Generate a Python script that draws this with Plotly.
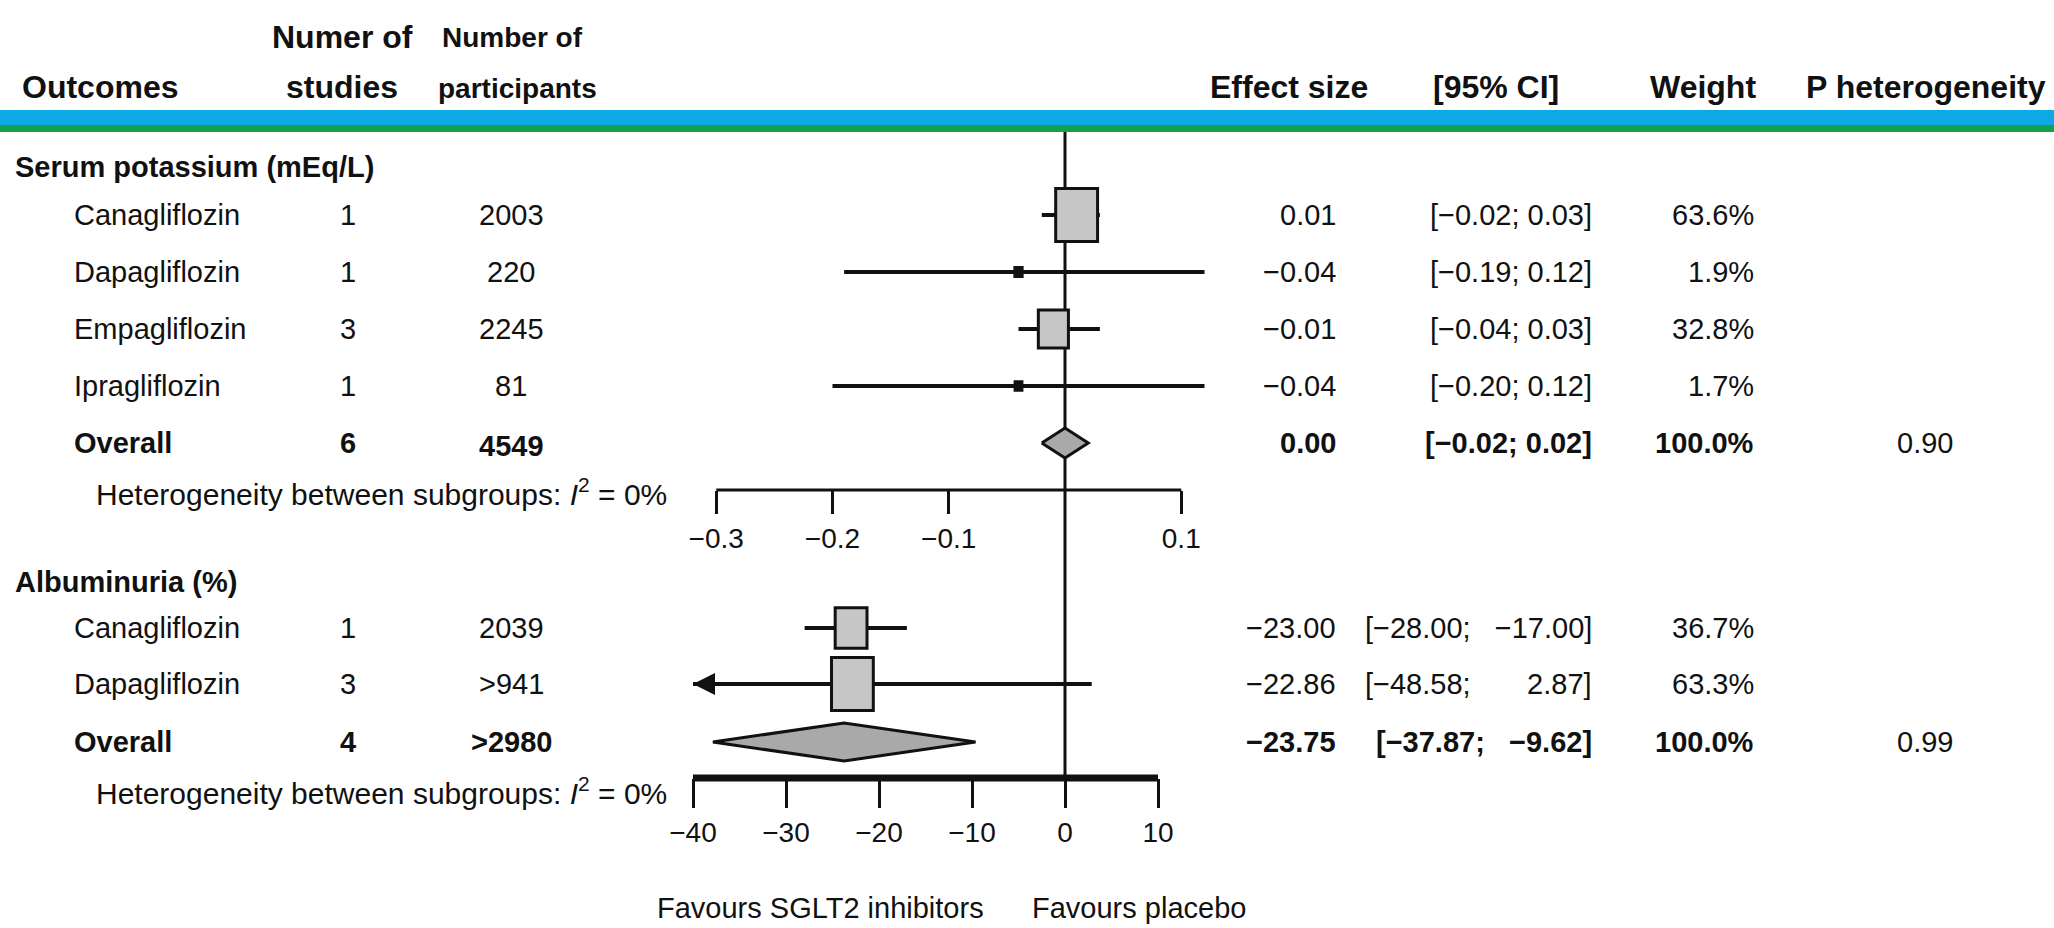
import plotly.graph_objects as go

W, H = 2054, 928

# ------------------------- data -------------------------
top_title = "Serum potassium (mEq/L)"
top_drugs = ["Canagliflozin", "Dapagliflozin", "Empagliflozin", "Ipragliflozin"]
top_studies = [1, 1, 3, 1]
top_participants = ["2003", "220", "2245", "81"]
top_est = [0.01, -0.04, -0.01, -0.04]
top_lo = [-0.02, -0.19, -0.04, -0.20]
top_hi = [0.03, 0.12, 0.03, 0.12]
top_weight = [63.6, 1.9, 32.8, 1.7]
top_overall_studies = 6
top_overall_participants = "4549"
top_overall_est = 0.00
top_overall_lo = -0.02
top_overall_hi = 0.02
top_p_het = "0.90"

bot_title = "Albuminuria (%)"
bot_drugs = ["Canagliflozin", "Dapagliflozin"]
bot_studies = [1, 3]
bot_participants = ["2039", ">941"]
bot_est = [-23.00, -22.86]
bot_lo = [-28.00, -48.58]
bot_hi = [-17.00, 2.87]
bot_weight = [36.7, 63.3]
bot_overall_studies = 4
bot_overall_participants = ">2980"
bot_overall_est = -23.75
bot_overall_lo = -37.87
bot_overall_hi = -9.62
bot_p_het = "0.99"

top_ticks = [-0.3, -0.2, -0.1, 0.1]
bot_ticks = [-40, -30, -20, -10, 0, 10]
top_limits = [-0.3, 0.1]
bot_limits = [-40, 10]

# ------------------------- layout constants (pixels) -------------------------
FONT = "Liberation Sans, Arial, Helvetica, sans-serif"
FS = 29
ZERO_PX = 1065
TOP_SCALE = (1181 - 716) / 0.4      # px per unit, top panel
BOT_SCALE = (1158 - 693) / 50.0     # px per unit, bottom panel

Y_HEAD1, Y_HEAD2 = 37, 87
Y_BLUE = (110, 125)
Y_GREEN = (125, 132)
Y_TOP_TITLE = 167
Y_TOP_ROWS = [215, 272, 329, 386]
Y_TOP_OVERALL = 443
Y_TOP_HET = 492
Y_TOP_AXIS = 490
Y_BOT_TITLE = 582
Y_BOT_ROWS = [628, 684]
Y_BOT_OVERALL = 742
Y_BOT_HET = 791
Y_BOT_AXIS = 778
Y_FAV = 908

X_TITLE = 13
X_DRUG = 72
X_HET = 94
X_STUD = 348
X_PART = 511
X_EFF_R = 1338
X_CI_R = 1594
X_W_R = 1756
X_P_C = 1925

BOX_K = 6.65      # box height px per sqrt(weight)
BOX_ASPECT = 0.79
INK = "#111111"
BOX_FILL = "#c6c6c6"
DIA_FILL = "#a9a9a9"


def fmt(v, nd=2):
    s = f"{abs(v):.{nd}f}"
    return ("\u2212" + s) if v < 0 else s


def ci_text(lo, hi, pad=0):
    h = fmt(hi)
    h = "\u2007" * max(0, pad - len(h)) + h
    return f"[{fmt(lo)}; {h}]"


fig = go.Figure()
annotations = []
shapes = []


def txt(x_px, y, text, anchor="left", size=FS, bold=False):
    if bold:
        text = f"<b>{text}</b>"
    annotations.append(dict(
        x=x_px / W, xref="paper", y=y, yref="y", text=text, showarrow=False,
        xanchor=anchor, yanchor="middle", font=dict(family=FONT, size=size, color=INK),
    ))


# header rule
shapes.append(dict(type="rect", xref="paper", yref="y", x0=0, x1=1, y0=Y_BLUE[0], y1=Y_BLUE[1],
                   fillcolor="#0ea8e4", line=dict(width=0), layer="below"))
shapes.append(dict(type="rect", xref="paper", yref="y", x0=0, x1=1, y0=Y_GREEN[0], y1=Y_GREEN[1],
                   fillcolor="#13a24c", line=dict(width=0), layer="below"))

# header texts
HS = 32
txt(20, Y_HEAD2, "Outcomes", size=HS, bold=True)
txt(342, Y_HEAD1, "Numer of", "center", size=HS, bold=True)
txt(342, Y_HEAD2, "studies", "center", size=HS, bold=True)
txt(512, Y_HEAD1, "Number of", "center", size=28, bold=True)
txt(517, Y_HEAD2 + 1, "participants", "center", size=28, bold=True)
txt(1370, Y_HEAD2, "Effect size", "right", size=HS, bold=True)
txt(1431, Y_HEAD2, "[95% CI]", "left", size=HS, bold=True)
txt(1758, Y_HEAD2, "Weight", "right", size=HS, bold=True)
txt(1804, Y_HEAD2, "P heterogeneity", "left", size=HS, bold=True)


def box(xaxis, est, y, w):
    h = BOX_K * w ** 0.5
    wd = h * BOX_ASPECT
    shapes.append(dict(type="rect", xref=xaxis, yref="y", xsizemode="pixel", ysizemode="pixel",
                       xanchor=est, yanchor=y, x0=-wd / 2, x1=wd / 2, y0=-h / 2, y1=h / 2,
                       fillcolor=BOX_FILL if h > 14 else INK, line=dict(color=INK, width=3)))


def diamond(xaxis, yaxis, lo, est, hi, y, half_h):
    fig.add_trace(go.Scatter(
        x=[lo, est, hi, est, lo], y=[y, y - half_h, y, y + half_h, y],
        xaxis=xaxis, yaxis=yaxis, mode="lines", fill="toself", fillcolor=DIA_FILL,
        line=dict(color=INK, width=3), hoverinfo="skip", showlegend=False))


# ---------------- top panel (serum potassium) ----------------
txt(X_TITLE, Y_TOP_TITLE, top_title, bold=True)
# zero line
fig.add_trace(go.Scatter(x=[0, 0], y=[Y_GREEN[1], Y_BOT_AXIS], mode="lines", xaxis="x", yaxis="y",
                         line=dict(color=INK, width=3), hoverinfo="skip", showlegend=False))
for i, d in enumerate(top_drugs):
    y = Y_TOP_ROWS[i]
    txt(X_DRUG, y, d)
    txt(X_STUD, y, str(top_studies[i]), "center")
    txt(X_PART, y, top_participants[i], "center")
    txt(X_EFF_R, y, fmt(top_est[i]), "right")
    txt(X_CI_R, y, ci_text(top_lo[i], top_hi[i]), "right")
    txt(X_W_R, y, f"{top_weight[i]:.1f}%", "right")
    fig.add_trace(go.Scatter(x=[top_lo[i], top_hi[i]], y=[y, y], mode="lines", xaxis="x", yaxis="y",
                             line=dict(color=INK, width=4), hoverinfo="skip", showlegend=False))
    box("x", top_est[i], y, top_weight[i])

y = Y_TOP_OVERALL
txt(X_DRUG, y, "Overall", bold=True)
txt(X_STUD, y, str(top_overall_studies), "center", bold=True)
txt(X_PART, y + 3, top_overall_participants, "center", bold=True)
txt(X_EFF_R, y, fmt(top_overall_est), "right", bold=True)
txt(X_CI_R, y, ci_text(top_overall_lo, top_overall_hi), "right", bold=True)
txt(X_W_R, y, "100.0%", "right", bold=True)
txt(X_P_C, y, top_p_het, "center")
diamond("x", "y", top_overall_lo, top_overall_est, top_overall_hi, y, 15)
txt(X_HET, Y_TOP_HET, "Heterogeneity between subgroups: <i>I</i><sup>2</sup> = 0%", size=30)
fig.add_trace(go.Scatter(x=top_limits, y=[Y_TOP_AXIS, Y_TOP_AXIS], mode="lines", xaxis="x", yaxis="y",
                         line=dict(color=INK, width=3), hoverinfo="skip", showlegend=False))

# ---------------- bottom panel (albuminuria) ----------------
txt(X_TITLE, Y_BOT_TITLE, bot_title, bold=True)
for i, d in enumerate(bot_drugs):
    y = Y_BOT_ROWS[i]
    txt(X_DRUG, y, d)
    txt(X_STUD, y, str(bot_studies[i]), "center")
    txt(X_PART, y, bot_participants[i].replace(">", "&gt;"), "center")
    txt(X_EFF_R, y, fmt(bot_est[i]), "right")
    txt(X_CI_R, y, ci_text(bot_lo[i], bot_hi[i], pad=7), "right")
    txt(X_W_R, y, f"{bot_weight[i]:.1f}%", "right")
    lo_draw = max(bot_lo[i], bot_limits[0])
    fig.add_trace(go.Scatter(x=[lo_draw, bot_hi[i]], y=[y, y], mode="lines", xaxis="x2", yaxis="y",
                             line=dict(color=INK, width=4), hoverinfo="skip", showlegend=False))
    if bot_lo[i] < bot_limits[0]:
        # CI runs off the left of the scale: arrow head at the scale limit
        annotations.append(dict(x=bot_limits[0], xref="x2", y=y, yref="y", ax=40, ay=0,
                                text="", showarrow=True, arrowhead=2, arrowsize=1.1,
                                arrowwidth=4, arrowcolor=INK))
    box("x2", bot_est[i], y, bot_weight[i])

y = Y_BOT_OVERALL
txt(X_DRUG, y, "Overall", bold=True)
txt(X_STUD, y, str(bot_overall_studies), "center", bold=True)
txt(X_PART, y, bot_overall_participants.replace(">", "&gt;"), "center", bold=True)
txt(X_EFF_R, y, fmt(bot_overall_est), "right", bold=True)
txt(X_CI_R, y, ci_text(bot_overall_lo, bot_overall_hi, pad=6), "right", bold=True)
txt(X_W_R, y, "100.0%", "right", bold=True)
txt(X_P_C, y, bot_p_het, "center")
diamond("x2", "y", bot_overall_lo, bot_overall_est, bot_overall_hi, y, 19)
txt(X_HET, Y_BOT_HET, "Heterogeneity between subgroups: <i>I</i><sup>2</sup> = 0%", size=30)
fig.add_trace(go.Scatter(x=bot_limits, y=[Y_BOT_AXIS, Y_BOT_AXIS], mode="lines", xaxis="x2", yaxis="y",
                         line=dict(color=INK, width=7), hoverinfo="skip", showlegend=False))

txt(986, Y_FAV, "Favours SGLT2 inhibitors", "right")
txt(1030, Y_FAV, "Favours placebo", "left")


def tick_label(v, nd):
    s = f"{abs(v):.{nd}f}" if nd else f"{abs(v):g}"
    return ("\u2212" + s) if v < 0 else s


fig.update_layout(
    width=W, height=H, autosize=False,
    margin=dict(l=0, r=0, t=0, b=0, pad=0),
    paper_bgcolor="white", plot_bgcolor="rgba(0,0,0,0)",
    showlegend=False,
    annotations=annotations, shapes=shapes,
    yaxis=dict(domain=[0, 1], range=[H, 0], visible=False, fixedrange=True),
    xaxis=dict(domain=[0, 1], range=[-ZERO_PX / TOP_SCALE, (W - ZERO_PX) / TOP_SCALE],
               anchor="free", position=1 - Y_TOP_AXIS / H, showline=False, showgrid=False,
               zeroline=False, ticks="outside", ticklen=23, tickwidth=3, tickcolor=INK,
               tickvals=top_ticks, ticktext=[tick_label(v, 1) for v in top_ticks],
               tickfont=dict(family=FONT, size=28, color=INK), fixedrange=True),
    xaxis2=dict(domain=[0, 1], range=[-ZERO_PX / BOT_SCALE, (W - ZERO_PX) / BOT_SCALE],
                anchor="free", position=1 - Y_BOT_AXIS / H, showline=False, showgrid=False,
                zeroline=False, ticks="outside", ticklen=29, tickwidth=3, tickcolor=INK,
                tickvals=bot_ticks, ticktext=[tick_label(v, 0) for v in bot_ticks],
                tickfont=dict(family=FONT, size=28, color=INK), fixedrange=True),
)

fig.write_html("out.html", config={"displayModeBar": False},
               post_script="document.body.style.margin='0';document.body.style.overflow='hidden';")
